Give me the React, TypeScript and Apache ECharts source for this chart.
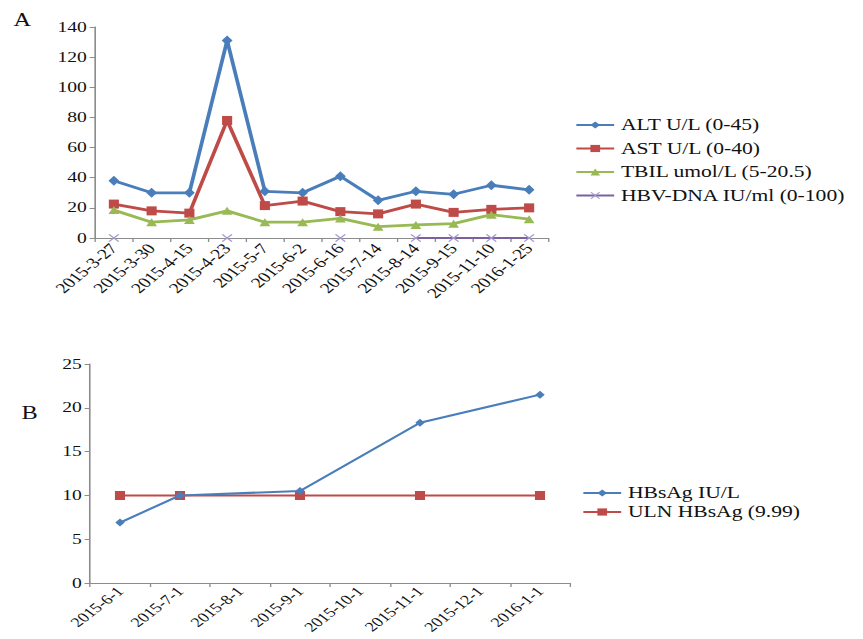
import React, { useEffect, useRef } from "react";
import * as echarts from "echarts";

const S = 1.35; // horizontal stretch of the reference picture
const W = 863;
const H = 639;

const categoriesA = ["2015-3-27", "2015-3-30", "2015-4-15", "2015-4-23", "2015-5-7", "2015-6-2", "2015-6-16", "2015-7-14", "2015-8-14", "2015-9-15", "2015-11-10", "2016-1-25"];
const alt = [38, 30, 30, 131, 31, 30, 41, 25, 31, 29, 35, 32];
const ast = [22.5, 18, 16.5, 78, 21.5, 24.5, 17.5, 16, 22.5, 17, 19, 20];
const tbil = [18.5, 10.5, 12, 18, 10.5, 10.5, 13, 7.5, 8.7, 9.5, 15.5, 12.5];
const hbv = [0, null, null, 0, null, null, 0, null, 0, 0, 0, 0];

const categoriesB = ["2015-6-1", "2015-7-1", "2015-8-1", "2015-9-1", "2015-10-1", "2015-11-1", "2015-12-1", "2016-1-1"];
const hbsag = [6.9, 10, null, 10.5, null, 18.3, null, 21.5];
const uln = [9.99, 9.99, null, 9.99, null, 9.99, null, 9.99];

const namesA = ["ALT U/L (0-45)", "AST U/L (0-40)", "TBIL umol/L (5-20.5)", "HBV-DNA IU/ml (0-100)"];
const namesB = ["HBsAg IU/L", "ULN HBsAg (9.99)"];

const FONT = "'Liberation Serif', 'DejaVu Serif', serif";
const TEXT = "#111";
const AXIS = "#8c8c8c";
const cross = "path://M0,1 L1,0 L5,4 L9,0 L10,1 L6,5 L10,9 L9,10 L5,6 L1,10 L0,9 L4,5 Z";

export default function App() {
  const ref = useRef<HTMLDivElement>(null);
  useEffect(() => {
    if (!ref.current) return;
    const chart = echarts.init(ref.current, null, { renderer: "svg" });
    const axisCommon = {
      axisLine: { show: true, lineStyle: { color: AXIS, width: 1.2 } },
      axisTick: { show: true, length: 4, lineStyle: { color: AXIS } },
      splitLine: { show: false },
    };
    const xLabelA = { rotate: 48, fontSize: 14.5, color: TEXT, fontFamily: FONT, margin: 8, interval: 0 };
    const xLabelB = { rotate: 46, fontSize: 13.5, color: TEXT, fontFamily: FONT, margin: 6, interval: 0 };
    const yLabel = { fontSize: 14.5, color: TEXT, fontFamily: FONT, margin: 6 };
    const legendText = { fontSize: 16, color: TEXT, fontFamily: FONT, lineHeight: 16 };
    chart.setOption({
      animation: false,
      backgroundColor: "#fff",
      textStyle: { fontFamily: FONT },
      graphic: [
        { type: "text", left: 10, top: 11, style: { text: "A", font: `18px ${FONT}`, fill: TEXT } },
        { type: "text", left: 16, top: 404, style: { text: "B", font: `18px ${FONT}`, fill: TEXT } },
      ],
      grid: [
        { left: 95 / S, top: 27, width: (548 - 95) / S, height: 211, outerBoundsMode: "none", containLabel: false },
        { left: 90 / S, top: 364, width: (570 - 90) / S, height: 219, outerBoundsMode: "none", containLabel: false },
      ],
      legend: [
        {
          orient: "vertical",
          left: 575 / S,
          top: 117,
          padding: 0,
          data: namesA,
          itemWidth: 28,
          itemHeight: 9,
          itemGap: 7.5,
          textStyle: legendText,
        },
        {
          orient: "vertical",
          left: 582 / S,
          top: 485,
          padding: 0,
          data: namesB,
          itemWidth: 28,
          itemHeight: 9,
          itemGap: 3,
          textStyle: legendText,
        },
      ],
      xAxis: [
        { type: "category", gridIndex: 0, data: categoriesA, boundaryGap: true, ...axisCommon, axisLabel: xLabelA },
        { type: "category", gridIndex: 1, data: categoriesB, boundaryGap: true, ...axisCommon, axisLabel: xLabelB },
      ],
      yAxis: [
        { type: "value", gridIndex: 0, min: 0, max: 140, interval: 20, ...axisCommon, axisLabel: yLabel },
        { type: "value", gridIndex: 1, min: 0, max: 25, interval: 5, ...axisCommon, axisLabel: yLabel },
      ],
      series: [
        {
          name: namesA[0], type: "line", xAxisIndex: 0, yAxisIndex: 0, data: alt,
          symbol: "diamond", symbolSize: [8, 10],
          lineStyle: { color: "#4A7EBB", width: 2.8 }, itemStyle: { color: "#4A7EBB" },
        },
        {
          name: namesA[1], type: "line", xAxisIndex: 0, yAxisIndex: 0, data: ast,
          symbol: "rect", symbolSize: [7.5, 9],
          lineStyle: { color: "#BE4B48", width: 2.8 }, itemStyle: { color: "#BE4B48" },
        },
        {
          name: namesA[2], type: "line", xAxisIndex: 0, yAxisIndex: 0, data: tbil,
          symbol: "triangle", symbolSize: [8, 8],
          lineStyle: { color: "#98B954", width: 2.8 }, itemStyle: { color: "#98B954" },
        },
        {
          name: namesA[3], type: "line", xAxisIndex: 0, yAxisIndex: 0, data: hbv,
          symbol: cross, symbolSize: [8, 8], connectNulls: false,
          lineStyle: { color: "#7D60A0", width: 2.2 }, itemStyle: { color: "#A597CC" },
          z: 3,
        },
        {
          name: namesB[0], type: "line", xAxisIndex: 1, yAxisIndex: 1, data: hbsag,
          symbol: "diamond", symbolSize: [7, 8], connectNulls: true,
          lineStyle: { color: "#4A7EBB", width: 2 }, itemStyle: { color: "#4A7EBB" },
          z: 3,
        },
        {
          name: namesB[1], type: "line", xAxisIndex: 1, yAxisIndex: 1, data: uln,
          symbol: "rect", symbolSize: [7.5, 9], connectNulls: true,
          lineStyle: { color: "#BE4B48", width: 2 }, itemStyle: { color: "#BE4B48" },
          z: 2,
        },
      ],
    });
    return () => chart.dispose();
  }, []);
  return (
    <div style={{ position: "fixed", left: 0, top: 0, width: W, height: H, overflow: "hidden", background: "#fff" }}>
      <div
        ref={ref}
        style={{ width: W / S, height: H, transform: `scaleX(${S})`, transformOrigin: "0 0" }}
      />
    </div>
  );
}
